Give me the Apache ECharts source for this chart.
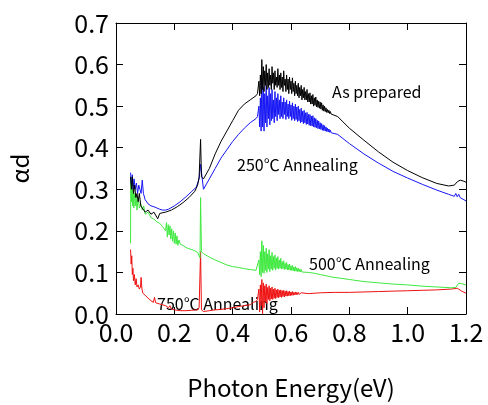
<!DOCTYPE html>
<html>
<head>
<meta charset="utf-8">
<script src="https://cdn.jsdelivr.net/npm/echarts@6/dist/echarts.min.js"></script>
<style>
  html, body { margin: 0; padding: 0; background: #fff; }
  #chart { width: 488px; height: 405px; }
</style>
</head>
<body>
<div id="chart"></div>
<script>
var fontName = 'Noto Sans CJK JP';
var xTicks = [0.0, 0.2, 0.4, 0.6, 0.8, 1.0, 1.2];
var yTicks = [0.0, 0.1, 0.2, 0.3, 0.4, 0.5, 0.6, 0.7];
var seriesNames = ['As prepared', '250℃ Annealing', '500℃ Annealing', '750℃ Annealing'];

// 噪声区的能量采样网格（从 0.49 eV 起，每 0.0025 eV 一个点）
var noiseStart = 0.49;
var noiseStep = 0.0025;

// As prepared (black)
var blackHeadX = [0.050, 0.053, 0.056, 0.060, 0.064, 0.068, 0.072, 0.076, 0.080, 0.085, 0.090, 0.100, 0.110, 0.120, 0.130, 0.143, 0.150, 0.170, 0.190, 0.210, 0.230, 0.250, 0.270, 0.280, 0.285, 0.290, 0.293, 0.300, 0.320, 0.340, 0.360, 0.380, 0.400, 0.420, 0.440, 0.460, 0.480, 0.485];
var blackHeadY = [0.330, 0.300, 0.330, 0.290, 0.310, 0.280, 0.290, 0.270, 0.290, 0.260, 0.255, 0.245, 0.250, 0.240, 0.245, 0.229, 0.242, 0.245, 0.250, 0.258, 0.268, 0.280, 0.295, 0.310, 0.330, 0.420, 0.330, 0.325, 0.350, 0.385, 0.415, 0.440, 0.465, 0.490, 0.505, 0.515, 0.525, 0.530];
var blackNoise = [0.560, 0.525, 0.575, 0.530, 0.612, 0.540, 0.595, 0.535, 0.585, 0.550, 0.600, 0.540, 0.580, 0.545, 0.590, 0.550, 0.575, 0.540, 0.595, 0.555,
  0.580, 0.540, 0.585, 0.550, 0.570, 0.545, 0.590, 0.550, 0.575, 0.540, 0.580, 0.545, 0.570, 0.535, 0.585, 0.550, 0.565, 0.535, 0.575, 0.540,
  0.565, 0.530, 0.570, 0.540, 0.560, 0.530, 0.568, 0.535, 0.555, 0.525, 0.560, 0.530, 0.550, 0.525, 0.555, 0.520, 0.545, 0.525, 0.550, 0.515,
  0.540, 0.520, 0.545, 0.515, 0.535, 0.515, 0.540, 0.510, 0.530, 0.510, 0.532, 0.505, 0.525, 0.505, 0.528, 0.500, 0.520, 0.502, 0.522, 0.498,
  0.515, 0.497, 0.512, 0.495, 0.510, 0.493, 0.508, 0.490, 0.503, 0.488, 0.500, 0.487, 0.496, 0.485, 0.492, 0.484, 0.490, 0.482, 0.487, 0.481, 0.483];
var blackTailX = [0.760, 0.800, 0.850, 0.900, 0.950, 1.000, 1.050, 1.100, 1.140, 1.160, 1.170, 1.180, 1.190, 1.200];
var blackTailY = [0.475, 0.447, 0.418, 0.390, 0.365, 0.345, 0.328, 0.314, 0.308, 0.310, 0.318, 0.322, 0.320, 0.317];

// 250℃ Annealing (blue)
var blueHeadX = [0.050, 0.053, 0.056, 0.059, 0.062, 0.066, 0.070, 0.074, 0.078, 0.082, 0.086, 0.090, 0.094, 0.100, 0.110, 0.120, 0.130, 0.140, 0.150, 0.160, 0.170, 0.180, 0.200, 0.220, 0.240, 0.260, 0.275, 0.285, 0.290, 0.295, 0.300, 0.320, 0.340, 0.360, 0.380, 0.400, 0.420, 0.440, 0.460, 0.480, 0.485];
var blueHeadY = [0.340, 0.310, 0.335, 0.300, 0.325, 0.300, 0.315, 0.290, 0.310, 0.300, 0.290, 0.322, 0.290, 0.275, 0.265, 0.260, 0.258, 0.255, 0.252, 0.250, 0.250, 0.252, 0.260, 0.270, 0.282, 0.295, 0.305, 0.325, 0.360, 0.330, 0.300, 0.325, 0.350, 0.375, 0.395, 0.415, 0.432, 0.447, 0.460, 0.470, 0.475];
var blueNoise = [0.500, 0.450, 0.520, 0.440, 0.567, 0.450, 0.545, 0.440, 0.530, 0.460, 0.550, 0.450, 0.525, 0.470, 0.545, 0.455, 0.530, 0.465, 0.540, 0.470,
  0.515, 0.460, 0.535, 0.475, 0.520, 0.465, 0.530, 0.480, 0.515, 0.470, 0.525, 0.475, 0.510, 0.470, 0.520, 0.480, 0.510, 0.468, 0.515, 0.475,
  0.505, 0.470, 0.512, 0.475, 0.503, 0.466, 0.508, 0.470, 0.500, 0.465, 0.505, 0.468, 0.498, 0.463, 0.500, 0.465, 0.492, 0.460, 0.495, 0.462,
  0.488, 0.458, 0.490, 0.460, 0.484, 0.456, 0.485, 0.457, 0.480, 0.454, 0.480, 0.453, 0.476, 0.452, 0.477, 0.450, 0.472, 0.449, 0.470, 0.448,
  0.466, 0.446, 0.464, 0.445, 0.460, 0.444, 0.458, 0.442, 0.455, 0.441, 0.453, 0.440, 0.450, 0.439, 0.447, 0.438, 0.445, 0.437, 0.442, 0.436, 0.438];
var blueTailX = [0.760, 0.800, 0.850, 0.900, 0.950, 1.000, 1.050, 1.100, 1.140, 1.160, 1.165, 1.170, 1.175, 1.180, 1.190, 1.200];
var blueTailY = [0.432, 0.410, 0.385, 0.363, 0.343, 0.327, 0.312, 0.298, 0.288, 0.283, 0.290, 0.282, 0.288, 0.280, 0.276, 0.272];

// 500℃ Annealing (green)
var greenHeadX = [0.0500, 0.0505, 0.053, 0.055, 0.057, 0.059, 0.061, 0.063, 0.066, 0.069, 0.072, 0.076, 0.080, 0.085, 0.090, 0.095, 0.100, 0.110, 0.120, 0.130, 0.140, 0.150, 0.160,
  0.170, 0.173, 0.176, 0.179, 0.182, 0.185, 0.188, 0.191, 0.194, 0.197, 0.200, 0.203, 0.206, 0.209, 0.212, 0.216, 0.220, 0.230, 0.240, 0.250, 0.260, 0.270, 0.280, 0.285, 0.288, 0.290, 0.293, 0.300, 0.320, 0.340, 0.360, 0.380, 0.400, 0.420, 0.440, 0.460, 0.480, 0.485];
var greenHeadY = [0.170, 0.330, 0.270, 0.320, 0.260, 0.300, 0.255, 0.290, 0.260, 0.285, 0.250, 0.280, 0.255, 0.265, 0.250, 0.260, 0.240, 0.245, 0.232, 0.228, 0.222, 0.218, 0.210,
  0.200, 0.220, 0.185, 0.215, 0.190, 0.212, 0.180, 0.205, 0.175, 0.200, 0.170, 0.195, 0.168, 0.188, 0.165, 0.178, 0.168, 0.165, 0.160, 0.157, 0.155, 0.152, 0.148, 0.140, 0.135, 0.280, 0.150, 0.145, 0.137, 0.130, 0.124, 0.118, 0.114, 0.112, 0.109, 0.107, 0.105, 0.106];
var greenNoise = [0.130, 0.095, 0.150, 0.090, 0.176, 0.100, 0.165, 0.098, 0.150, 0.105, 0.158, 0.100, 0.145, 0.108, 0.155, 0.102, 0.140, 0.108, 0.148, 0.105,
  0.138, 0.110, 0.142, 0.106, 0.135, 0.110, 0.138, 0.108, 0.130, 0.110, 0.134, 0.108, 0.126, 0.109, 0.128, 0.107, 0.122, 0.108, 0.124, 0.106,
  0.119, 0.106, 0.120, 0.105, 0.116, 0.105, 0.117, 0.104, 0.113, 0.103, 0.114, 0.103, 0.111, 0.102, 0.110, 0.102, 0.108, 0.101, 0.107, 0.101, 0.104];
var greenTailX = [0.660, 0.680, 0.700, 0.740, 0.800, 0.850, 0.900, 0.950, 1.000, 1.050, 1.100, 1.150, 1.165, 1.175, 1.185, 1.200];
var greenTailY = [0.100, 0.098, 0.095, 0.089, 0.083, 0.078, 0.075, 0.072, 0.070, 0.067, 0.065, 0.063, 0.064, 0.074, 0.073, 0.070];

// 750℃ Annealing (red)
var redHeadX = [0.050, 0.052, 0.054, 0.056, 0.058, 0.060, 0.063, 0.066, 0.069, 0.072, 0.076, 0.080, 0.084, 0.086, 0.089, 0.092, 0.100, 0.110, 0.120, 0.128, 0.132, 0.136, 0.150, 0.160, 0.170, 0.180, 0.185, 0.190, 0.200, 0.220, 0.240, 0.260, 0.280, 0.285, 0.290, 0.293, 0.300, 0.320, 0.340, 0.360, 0.380, 0.400, 0.420, 0.440, 0.460, 0.470, 0.480, 0.485];
var redHeadY = [0.155, 0.120, 0.140, 0.095, 0.110, 0.080, 0.095, 0.070, 0.085, 0.065, 0.070, 0.060, 0.065, 0.088, 0.060, 0.050, 0.045, 0.038, 0.032, 0.028, 0.040, 0.027, 0.024, 0.022, 0.020, 0.015, 0.020, 0.012, 0.010, 0.008, 0.008, 0.009, 0.010, 0.015, 0.150, 0.010, 0.006, 0.008, 0.010, 0.011, 0.013, 0.015, 0.018, 0.020, 0.022, 0.028, 0.030, 0.035];
var redNoise = [0.060, 0.005, 0.070, 0.020, 0.083, 0.000, 0.075, 0.015, 0.068, 0.030, 0.072, 0.025, 0.064, 0.035, 0.068, 0.032, 0.062, 0.036, 0.065, 0.035,
  0.060, 0.038, 0.062, 0.037, 0.058, 0.040, 0.060, 0.039, 0.057, 0.041, 0.058, 0.040, 0.056, 0.042, 0.057, 0.041, 0.055, 0.043, 0.056, 0.043,
  0.054, 0.044, 0.055, 0.044, 0.053, 0.045, 0.054, 0.045, 0.052, 0.046, 0.053, 0.046, 0.052, 0.047, 0.052, 0.047, 0.051, 0.048, 0.051, 0.048, 0.050];
var redTailX = [0.660, 0.700, 0.750, 0.800, 0.850, 0.900, 0.950, 1.000, 1.050, 1.100, 1.150, 1.170, 1.185, 1.200];
var redTailY = [0.049, 0.051, 0.052, 0.052, 0.053, 0.054, 0.055, 0.056, 0.057, 0.058, 0.060, 0.062, 0.055, 0.050];

var buildData = function (headX, headY, noise, tailX, tailY) {
    var d = [];
    headX.forEach(function (x, i) { d.push([x, headY[i]]); });
    noise.forEach(function (v, i) { d.push([+(noiseStart + i * noiseStep).toFixed(4), v]); });
    tailX.forEach(function (x, i) { d.push([x, tailY[i]]); });
    return d;
};

var spectrumChart = function () {
    var myChart = echarts.init(document.getElementById('chart'));
    var colors = ['#000000', '#1515f5', '#3ee83e', '#ee1111'];
    var lists = [
        buildData(blackHeadX, blackHeadY, blackNoise, blackTailX, blackTailY),
        buildData(blueHeadX, blueHeadY, blueNoise, blueTailX, blueTailY),
        buildData(greenHeadX, greenHeadY, greenNoise, greenTailX, greenTailY),
        buildData(redHeadX, redHeadY, redNoise, redTailX, redTailY)
    ];
    var series = lists.map(function (d, i) {
        return {
            name: seriesNames[i],
            type: 'line',
            data: d,
            showSymbol: false,
            symbol: 'none',
            z: 4 - i,
            lineStyle: { width: 1, color: colors[i] }
        };
    });
    var tickStyle = { show: true, inside: true, length: 7, lineStyle: { color: '#000', width: 1 } };
    var lineStyle = { show: true, onZero: false, lineStyle: { color: '#000', width: 1 } };
    var option = {
        animation: false,
        textStyle: { fontFamily: fontName },
        grid: { left: 115, right: 22, top: 23, bottom: 79 },
        xAxis: [
            {
                type: 'value',
                min: xTicks[0],
                max: xTicks[xTicks.length - 1],
                interval: 0.2,
                axisLine: lineStyle,
                axisTick: tickStyle,
                splitLine: { show: false },
                axisLabel: {
                    color: '#000', fontSize: 25, margin: 6,
                    formatter: function (v) { return v.toFixed(1); }
                },
                name: 'Photon Energy(eV)',
                nameLocation: 'middle',
                nameGap: 62,
                nameTextStyle: { color: '#000', fontSize: 24 }
            },
            {
                type: 'value', position: 'top',
                min: xTicks[0], max: xTicks[xTicks.length - 1], interval: 0.2,
                axisLine: lineStyle, axisTick: tickStyle,
                axisLabel: { show: false }, splitLine: { show: false }
            }
        ],
        yAxis: [
            {
                type: 'value',
                min: yTicks[0],
                max: yTicks[yTicks.length - 1],
                interval: 0.1,
                axisLine: lineStyle,
                axisTick: tickStyle,
                splitLine: { show: false },
                axisLabel: {
                    color: '#000', fontSize: 25, margin: 7,
                    formatter: function (v) { return v.toFixed(1); }
                },
                name: 'αd',
                nameLocation: 'middle',
                nameGap: 84,
                nameRotate: 90,
                nameTextStyle: { color: '#000', fontSize: 24 }
            },
            {
                type: 'value', position: 'right',
                min: yTicks[0], max: yTicks[yTicks.length - 1], interval: 0.1,
                axisLine: lineStyle, axisTick: tickStyle,
                axisLabel: { show: false }, splitLine: { show: false }
            }
        ],
        //曲线标注
        graphic: [
            { type: 'text', left: 332, top: 84, style: { text: seriesNames[0], fontSize: 16, fontFamily: fontName, fill: '#000' } },
            { type: 'text', left: 237, top: 157, style: { text: seriesNames[1], fontSize: 16, fontFamily: fontName, fill: '#000' } },
            { type: 'text', left: 309, top: 256, style: { text: seriesNames[2], fontSize: 16, fontFamily: fontName, fill: '#000' } },
            { type: 'text', left: 157, top: 296, style: { text: seriesNames[3], fontSize: 16, fontFamily: fontName, fill: '#000' } }
        ],
        series: series
    };
    myChart.setOption(option);
};

spectrumChart();
</script>
</body>
</html>
